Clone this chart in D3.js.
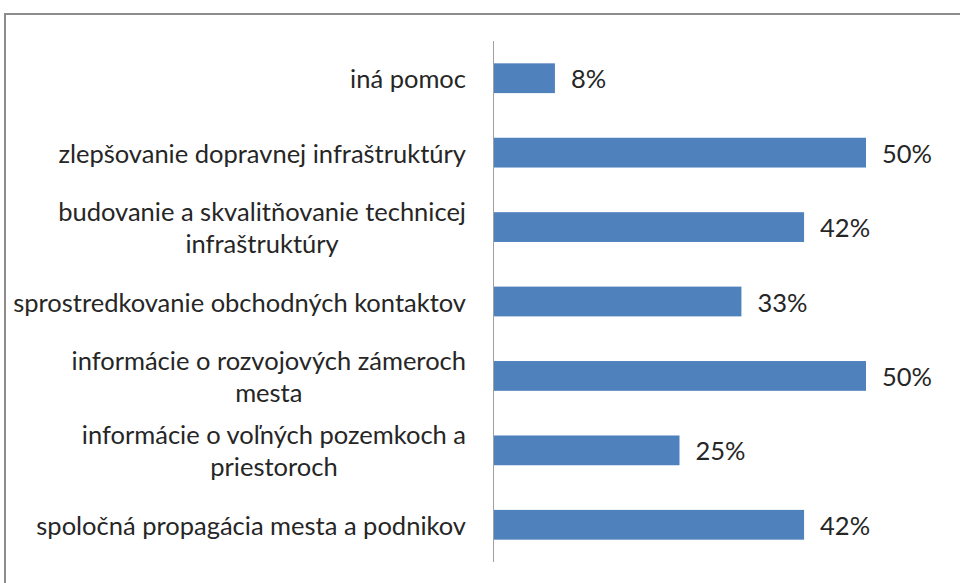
<!DOCTYPE html>
<html>
<head>
<meta charset="utf-8">
<script src="https://cdn.jsdelivr.net/npm/d3@7"></script>
<style>
  body { margin: 0; background: #fff; }
  svg { display: block; }
</style>
</head>
<body>
<script>
(function (d3) {
    "use strict";

    /***** Data *****/
    var categories = [
        ["iná pomoc"],
        ["zlepšovanie dopravnej infraštruktúry"],
        ["budovanie a skvalitňovanie technicej", "infraštruktúry"],
        ["sprostredkovanie obchodných kontaktov"],
        ["informácie o rozvojových zámeroch", "mesta"],
        ["informácie o voľných pozemkoch a", "priestoroch"],
        ["spoločná propagácia mesta a podnikov"]
    ];
    var values = [8.3, 50, 41.7, 33.3, 50, 25, 41.7];

    /***** Configuration *****/
    var width = 960, height = 583;
    var axisX = 493;
    var plotTop = 41, plotBottom = 562;
    var fontFamily = "Lato, 'Open Sans', sans-serif";
    var fontSize = 25.5;
    var lineHeight = 32;

    var svg = d3.select("body").append("svg")
        .attr("width", width)
        .attr("height", height);

    // chart frame
    svg.append("rect")
        .attr("x", 5).attr("y", 14)
        .attr("width", 1000).attr("height", 1000)
        .attr("fill", "none")
        .attr("stroke", "#8c8c8c")
        .attr("stroke-width", 2);

    /***** Scales *****/
    var xScale = d3.scaleLinear().domain([0, 50]).range([axisX, 866]);
    var yScale = d3.scaleBand()
        .domain(d3.range(values.length))
        .range([plotTop, plotBottom])
        .paddingInner(0.6)
        .paddingOuter(0.3);

    /***** Bars *****/
    svg.append("g").selectAll("rect")
        .data(values)
        .join("rect")
        .attr("x", xScale(0))
        .attr("y", function (d, i) { return yScale(i); })
        .attr("width", function (d) { return xScale(d) - xScale(0); })
        .attr("height", yScale.bandwidth())
        .attr("fill", "#4f81bd");

    // vertical axis line
    var yAxis = d3.axisLeft(yScale).tickSize(0).tickFormat("");
    var axisG = svg.append("g")
        .attr("transform", "translate(" + axisX + ",0)")
        .call(yAxis);
    axisG.select(".domain")
        .attr("d", "M0.5," + plotTop + "V" + plotBottom)
        .attr("stroke", "#a0a0a0");

    /***** Category labels *****/
    var labelRight = 466;
    var labels = svg.append("g")
        .attr("font-family", fontFamily)
        .attr("font-size", fontSize)
        .attr("fill", "#262626");

    categories.forEach(function (lines, i) {
        var cy = yScale(i) + yScale.bandwidth() / 2;
        // measure widest line to right-align the block, centre the lines
        var widths = lines.map(function (l) {
            var s = labels.append("text").text(l);
            var w = s.node().getComputedTextLength();
            s.remove();
            return w;
        });
        var center = labelRight - d3.max(widths) / 2;
        var t = labels.append("text")
            .attr("text-anchor", "middle")
            .attr("dominant-baseline", "central");
        lines.forEach(function (l, j) {
            t.append("tspan")
                .attr("x", center)
                .attr("y", cy + (j - (lines.length - 1) / 2) * lineHeight)
                .text(l);
        });
    });

    /***** Value labels *****/
    svg.append("g")
        .attr("font-family", fontFamily)
        .attr("font-size", fontSize)
        .attr("fill", "#262626")
        .selectAll("text")
        .data(values)
        .join("text")
        .attr("x", function (d) { return xScale(d) + 16; })
        .attr("y", function (d, i) { return yScale(i) + yScale.bandwidth() / 2; })
        .attr("dominant-baseline", "central")
        .text(function (d) { return Math.round(d) + "%"; });

})(d3);
</script>
</body>
</html>
